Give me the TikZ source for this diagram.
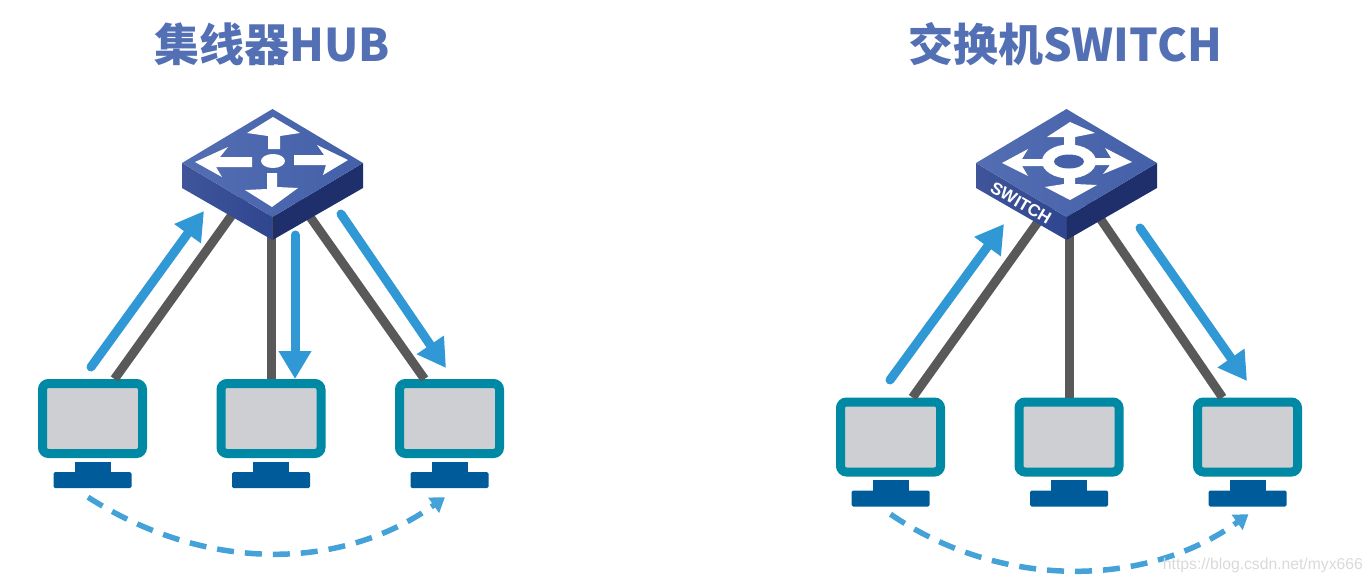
\documentclass[tikz,border=0pt]{standalone}
\usepackage{fontspec}
\newfontfamily\cjk{Noto Sans CJK SC}
\newfontfamily\lib{Liberation Sans}
\usetikzlibrary{arrows.meta,calc}
\definecolor{titleblue}{HTML}{5470B4}
\definecolor{topface}{HTML}{4A66AE}
\definecolor{topfaceB}{HTML}{4460A8}
\definecolor{leftface}{HTML}{2F4690}
\definecolor{rightface}{HTML}{1F2F6C}
\definecolor{teal}{HTML}{0089A5}
\definecolor{screen}{HTML}{CDCFD2}
\definecolor{standblue}{HTML}{005B9B}
\definecolor{wire}{HTML}{595959}
\definecolor{flow}{HTML}{2F98D5}
\tikzset{
  titletext/.style={font=\cjk\bfseries\fontsize{45}{48}\selectfont,text=titleblue,inner sep=0pt},
  monitor/.style={draw=teal,line width=9pt,fill=screen,rounded corners=6pt,minimum width=100pt,minimum height=70pt,inner sep=0pt},
  standneck/.style={fill=standblue,minimum width=36pt,minimum height=12pt,inner sep=0pt},
  standbase/.style={fill=standblue,rounded corners=1.5pt,minimum width=78pt,minimum height=16pt,inner sep=0pt},
  hubbox/.style={minimum width=181pt,minimum height=131pt,inner sep=0pt},
  cable/.style={draw=wire,line width=9pt},
  dataflow/.style={draw=flow,line width=9pt,line cap=round,-{Triangle[length=28pt,width=31pt]}},
  echoflow/.style={draw=flow!90!white,line width=5.5pt,dash pattern=on 17pt off 11pt,-{Triangle[length=14pt,width=18pt]}},
  mark white/.style={fill=white,draw=none},
}
\newcommand{\hostunit}[3]{%
  \node[monitor] (#3) at (#1,#2) {};
  \node[standneck] (#3n) at (#1,#2+49) {};
  \node[standbase] (#3b) at (#1,#2+61.5) {};
}
\newcommand{\hubbody}[1]{%
  \shade[left color=leftface!92!white,right color=leftface] ($(#1)+(-90.5,-12)$) -- ($(#1)+(0,42)$) -- ($(#1)+(0,65)$) -- ($(#1)+(-90.5,13)$) -- cycle;
  \fill[rightface] ($(#1)+(90.5,-12)$) -- ($(#1)+(0,42)$) -- ($(#1)+(0,65)$) -- ($(#1)+(90.5,13)$) -- cycle;
  \shade[left color=topface!95!white,right color=topfaceB] ($(#1)+(0,-66)$) -- ($(#1)+(90.5,-12)$) -- ($(#1)+(0,42)$) -- ($(#1)+(-90.5,-12)$) -- cycle;
}
\begin{document}
\begin{tikzpicture}[x=1pt,y=-1pt]
\useasboundingbox (0,0) rectangle (1372,582);
% titles
\node[titletext] (t1) at (272,44) {集线器HUB};
\node[titletext] (t2) at (1065,44) {交换机SWITCH};
% hosts
\hostunit{92.5}{418.5}{a}
\hostunit{271}{418.5}{b}
\hostunit{449.5}{418.5}{c}
\hostunit{890.5}{437}{d}
\hostunit{1069}{437}{e}
\hostunit{1247.5}{437}{f}
% device anchors
\node[hubbox] (hub) at (272.5,175) {};
\node[hubbox] (sw) at (1066.5,175) {};
% cables
\draw[cable] ([xshift=22pt]a.north) -- ([xshift=-12pt]hub.center);
\draw[cable] (b.north) -- ([xshift=-1.5pt]hub.center);
\draw[cable] ([xshift=-25pt]c.north) -- ([xshift=8pt]hub.center);
\draw[cable] ([xshift=22pt]d.north) -- ([xshift=5pt]sw.center);
\draw[cable] (e.north) -- ([xshift=2.5pt]sw.center);
\draw[cable] ([xshift=-25pt]f.north) -- ([xshift=4pt]sw.center);
% hub
\hubbody{hub}
\begin{scope}[shift={(hub.center)},shift={(-272.5,-175)}]
  \fill[mark white] (273,117) -- (300,133) -- (280,136) -- (280,149) -- (268,149) -- (268,136) -- (247,133) -- cycle;
  \fill[mark white] (272,207) -- (245,190) -- (267,189) -- (267,173) -- (277,173) -- (277,187) -- (298,188) -- cycle;
  \fill[mark white] (195,162) -- (228,147) -- (220,157) -- (252,157) -- (252,167) -- (216,167) -- (222,177) -- cycle;
  \fill[mark white] (348,160) -- (323,175) -- (326,165) -- (294,165) -- (294,155) -- (324,155) -- (317,145) -- cycle;
  \fill[mark white] (273,161) ellipse [x radius=12,y radius=7];
\end{scope}
% switch
\hubbody{sw}
\begin{scope}[shift={(sw.center)},shift={(-1066.5,-175)}]
  \fill[mark white] (1070,122) -- (1095,133) -- (1075,137) -- (1075,150) -- (1064,150) -- (1064,137) -- (1047,137) -- cycle;
  \fill[mark white] (1070,200) -- (1045,187) -- (1064,184) -- (1064,170) -- (1075,170) -- (1075,184) -- (1097,185) -- cycle;
  \fill[mark white] (1002,163) -- (1028,149) -- (1022,159) -- (1050,159) -- (1050,166) -- (1022,166) -- (1028,176) -- cycle;
  \fill[mark white] (1132,162) -- (1105,148) -- (1111,158) -- (1090,158) -- (1090,165) -- (1110,165) -- (1103,174) -- cycle;
  \fill[mark white] (1069,161.5) ellipse [x radius=27,y radius=17];
  \fill[topfaceB] (1069,161.5) ellipse [x radius=15,y radius=7];
\end{scope}
\node[font=\lib\bfseries\fontsize{17}{18}\selectfont,text=white,rotate=-30,inner sep=0pt] (swlabel) at (1021,203) {SWITCH};
% data flows
\coordinate (p1) at (91,367); \coordinate (q1) at (204,211);
\coordinate (p2) at (295,235); \coordinate (q2) at (295,379);
\coordinate (p3) at (341,214); \coordinate (q3) at (446,368);
\coordinate (p4) at (890,380); \coordinate (q4) at (1004,224);
\coordinate (p5) at (1140,228); \coordinate (q5) at (1247,381);
\draw[dataflow] (p1) -- (q1);
\draw[dataflow] (p2) -- (q2);
\draw[dataflow] (p3) -- (q3);
\draw[dataflow] (p4) -- (q4);
\draw[dataflow] (p5) -- (q5);
% echo flows
\draw[echoflow] ([xshift=-4.5pt,yshift=-9pt]ab.south) .. controls (205,572) and (340,572) .. ([xshift=-4.5pt,yshift=-9pt]cb.south);
\draw[echoflow] ([yshift=-7.5pt]db.south) .. controls (1000,589) and (1145,589) .. ([xshift=1pt,yshift=-7.5pt]fb.south);
% watermark
\node[font=\lib\fontsize{15.7}{18}\selectfont,text=black!15,inner sep=0pt,anchor=east] (wm) at (1363,565) {https://blog.csdn.net/myx666};
\end{tikzpicture}
\end{document}
